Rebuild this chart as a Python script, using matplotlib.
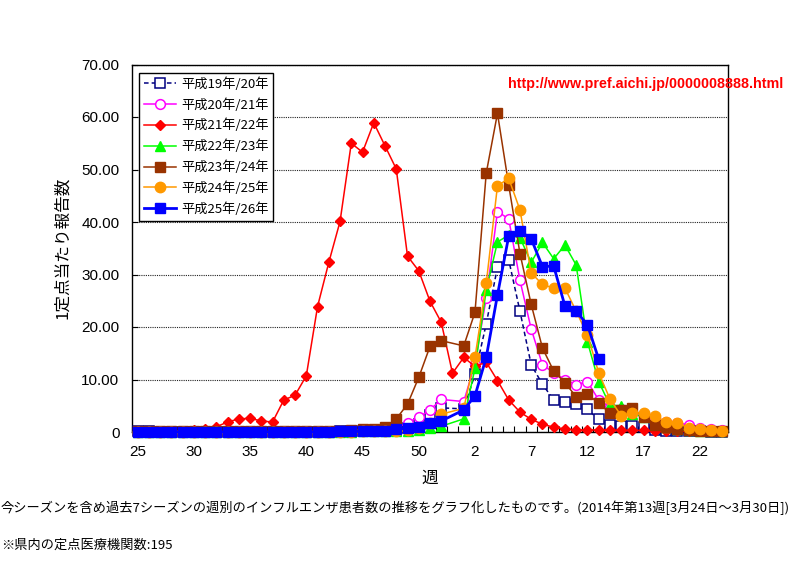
import numpy as np
import matplotlib
matplotlib.use('Agg')
import matplotlib.pyplot as plt
from matplotlib.ticker import FixedLocator

plt.rcParams['font.family'] = ['Liberation Sans', 'Noto Sans CJK JP', 'DejaVu Sans']

# ---- data ----
weeks = list(range(25, 54)) + list(range(1, 25))
nan = np.nan

h19_20 = [0.1, 0.1, 0.0, 0.0, 0.0, 0.0, 0.0, 0.0, 0.0, 0.0, 0.0, 0.0, 0.0, 0.0, 0.0,
          0.0, 0.0, 0.0, 0.1, 0.1, 0.1, 0.1, 0.2, 0.3, 0.8, 1.5, 3.2, 4.6, nan,
          4.4, 11.0, 20.6, 31.4, 32.8, 23.0, 12.8, 9.1, 6.1, 5.8, 5.3, 4.3, 2.4, 1.4,
          1.2, 1.1, 0.9, 0.4, 0.2, 0.1, 0.1, 0.1, 0.0, 0.0]
h20_21 = [0.0, 0.0, 0.0, 0.0, 0.0, 0.0, 0.0, 0.0, 0.0, 0.0, 0.0, 0.0, 0.0, 0.0, 0.0,
          0.0, 0.0, 0.0, 0.1, 0.1, 0.1, 0.2, 0.3, 0.7, 1.8, 2.8, 4.2, 6.2, nan,
          5.8, 13.0, 25.5, 42.0, 40.6, 28.9, 19.6, 12.8, 11.3, 10.0, 9.0, 9.6, 6.1, 4.8,
          4.3, 3.6, 2.9, 2.6, 2.0, 1.7, 1.4, 0.8, 0.5, 0.3]
h21_22 = [0.1, 0.1, 0.1, 0.2, 0.2, 0.3, 0.5, 1.0, 1.9, 2.5, 2.6, 2.1, 1.9, 6.1, 7.0,
          10.7, 23.9, 32.3, 40.1, 55.0, 53.3, 58.9, 54.5, 50.1, 33.5, 30.7, 24.9, 20.9, 11.2,
          14.2, 12.5, 13.3, 9.8, 6.1, 3.8, 2.4, 1.5, 0.9, 0.6, 0.4, 0.4, 0.4, 0.4,
          0.3, 0.3, 0.3, 0.1, 0.1, 0.1, 0.1, 0.1, 0.1, 0.1]
h22_23 = [0.0, 0.0, 0.0, 0.0, 0.0, 0.0, 0.0, 0.0, 0.0, 0.0, 0.0, 0.0, 0.0, 0.0, 0.0,
          0.0, 0.0, 0.0, 0.0, 0.0, 0.1, 0.1, 0.1, 0.1, 0.2, 0.4, 0.7, 1.1, nan,
          2.5, 12.1, 27.0, 36.2, 37.5, 37.0, 32.3, 36.1, 33.0, 35.6, 31.8, 17.2, 9.6, 5.1,
          5.0, 3.5, 2.8, 1.6, 0.9, 0.5, 0.3, 0.2, 0.1, 0.1]
h23_24 = [0.1, 0.1, 0.1, 0.1, 0.1, 0.1, 0.1, 0.1, 0.1, 0.1, 0.1, 0.1, 0.1, 0.1, 0.2,
          0.2, 0.2, 0.2, 0.2, 0.4, 0.5, 0.6, 0.9, 2.5, 5.3, 10.4, 16.3, 17.4, nan,
          16.4, 22.8, 49.3, 60.7, 47.0, 34.0, 24.3, 16.0, 11.6, 9.4, 6.7, 7.2, 5.5, 3.6,
          4.1, 4.5, 2.9, 1.4, 0.9, 0.5, 0.3, 0.2, 0.1, 0.1]
h24_25 = [0.0, 0.0, 0.0, 0.0, 0.0, 0.0, 0.0, 0.0, 0.0, 0.0, 0.0, 0.0, 0.0, 0.0, 0.0,
          0.0, 0.0, 0.0, 0.0, 0.0, 0.1, 0.1, 0.1, 0.1, 0.3, 0.8, 1.8, 3.4, nan,
          4.5, 14.2, 28.3, 46.9, 48.3, 42.3, 30.3, 28.1, 27.4, 27.4, 23.0, 18.5, 11.3, 6.3,
          3.1, 3.7, 3.6, 3.0, 2.0, 1.7, 0.8, 0.5, 0.3, 0.2]
h25_26 = [0.0, 0.0, 0.0, 0.0, 0.0, 0.0, 0.0, 0.0, 0.0, 0.0, 0.0, 0.0, 0.0, 0.0, 0.0,
          0.0, 0.0, 0.0, 0.1, 0.1, 0.1, 0.1, 0.2, 0.5, 0.8, 1.0, 1.7, 2.1, nan,
          4.2, 6.9, 14.2, 26.1, 37.3, 38.3, 36.8, 31.5, 31.6, 24.0, 23.0, 20.4, 13.9, nan,
          nan, nan, nan, nan, nan, nan, nan, nan, nan, nan]

season_labels = ['平成19年/20年', '平成20年/21年', '平成21年/22年', '平成22年/23年',
                 '平成23年/24年', '平成24年/25年', '平成25年/26年']
series = [h19_20, h20_21, h21_22, h22_23, h23_24, h24_25, h25_26]

y_ticks = [0, 10, 20, 30, 40, 50, 60, 70]
x_label_weeks = [25, 30, 35, 40, 45, 50, 2, 7, 12, 17, 22]

styles = [
    dict(color='#000080', ls=(0, (3, 2)), marker='s', mfc='white', mec='#000080', ms=6.5, lw=1.1, mew=1.1),
    dict(color='#FF00FF', ls='-', marker='o', mfc='white', mec='#FF00FF', ms=7, lw=1.1, mew=1.1),
    dict(color='#FF0000', ls='-', marker='D', mfc='#FF0000', mec='#FF0000', ms=5.5, lw=1.1),
    dict(color='#00FF00', ls='-', marker='^', mfc='#00FF00', mec='#00FF00', ms=7, lw=1.1),
    dict(color='#993300', ls='-', marker='s', mfc='#993300', mec='#993300', ms=6.5, lw=1.1),
    dict(color='#FF9900', ls='-', marker='o', mfc='#FF9900', mec='#FF9900', ms=7.5, lw=1.1),
    dict(color='#0000FF', ls='-', marker='s', mfc='#0000FF', mec='#0000FF', ms=7, lw=2.0),
]

# ---- figure ----
fig = plt.figure(figsize=(8.05, 5.65), dpi=100)
ax = fig.add_axes([132 / 805, 1 - 432 / 565, 596 / 805, 367.5 / 565])

x = np.arange(len(weeks))
handles = []
for vals, lab, st in zip(series, season_labels, styles):
    v = np.array(vals, dtype=float)
    m = ~np.isnan(v)
    h, = ax.plot(x[m], v[m], label=lab, linestyle=st['ls'], color=st['color'],
                 marker=st['marker'], markerfacecolor=st['mfc'], markeredgecolor=st['mec'],
                 markersize=st['ms'], linewidth=st['lw'], markeredgewidth=st.get('mew', 1.0),
                 clip_on=False, zorder=3)
    handles.append(h)

ax.set_xlim(-0.5, len(weeks) - 0.5)
ax.set_ylim(0, 70)

major_pos = [weeks.index(w) if w >= 25 else 29 + weeks[29:].index(w) for w in x_label_weeks]
ax.xaxis.set_major_locator(FixedLocator(major_pos))
ax.set_xticklabels([str(w) for w in x_label_weeks])
ax.xaxis.set_minor_locator(FixedLocator(np.arange(-0.5, len(weeks), 1.0)))
ax.tick_params(axis='x', which='major', length=0, pad=9, labelsize=11)
ax.tick_params(axis='x', which='minor', direction='in', length=4, width=0.8)

ax.set_yticks(y_ticks)
ax.set_yticklabels(['0' if t == 0 else f'{t:.2f}' for t in y_ticks])
ax.tick_params(axis='y', direction='in', length=4, width=0.8, pad=9, labelsize=11)
ax.yaxis.grid(True, linestyle=(0, (1, 1)), color='#222222', linewidth=0.8)
ax.set_axisbelow(True)
for s in ax.spines.values():
    s.set_linewidth(1.0)
    s.set_color('black')

leg = ax.legend(handles=handles, loc='upper left', bbox_to_anchor=(0.0122, 0.978),
                borderaxespad=0, fancybox=False, framealpha=1, edgecolor='black',
                handlelength=2.4, labelspacing=0.55, numpoints=1,
                borderpad=0.35, handletextpad=0.4,
                prop={'family': ['Noto Sans CJK JP'], 'size': 9.5})
leg.get_frame().set_linewidth(1.0)
leg.set_zorder(5)

fig.text(783 / 805, 1 - 84 / 565, 'http://www.pref.aichi.jp/0000008888.html',
         color='#FF0000', fontweight='bold', fontsize=10.3, ha='right', va='center',
         family=['Liberation Sans'], zorder=10)

fig.text(63 / 805, 1 - 248 / 565, '1定点当たり報告数', rotation=90, ha='center', va='center',
         fontsize=12, family=['Noto Sans CJK JP'])
fig.text(430 / 805, 1 - 478 / 565, '週', ha='center', va='center', fontsize=12,
         family=['Noto Sans CJK JP'])

fig.text(1 / 805, 1 - 508 / 565,
         '今シーズンを含め過去7シーズンの週別のインフルエンザ患者数の推移をグラフ化したものです。(2014年第13週[3月24日～3月30日])',
         ha='left', va='center', fontsize=9.5, family=['Noto Sans CJK JP', 'DejaVu Sans'])
fig.text(1 / 805, 1 - 545 / 565, '※県内の定点医療機関数:195', ha='left', va='center',
         fontsize=9.5, family=['Noto Sans CJK JP', 'DejaVu Sans'])

fig.savefig('out.png', dpi=100)
